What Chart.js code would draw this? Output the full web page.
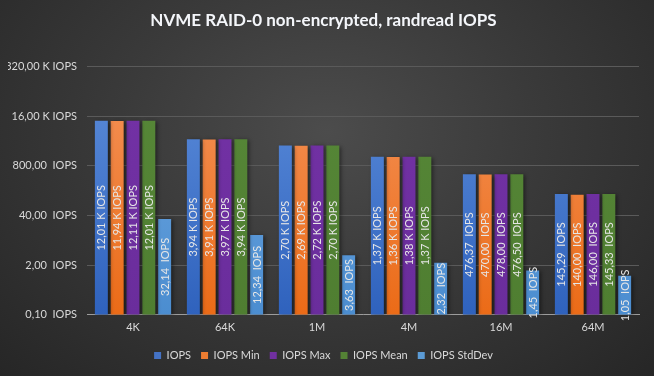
<!DOCTYPE html>
<html>
<head>
<meta charset="utf-8">
<script src="https://cdn.jsdelivr.net/npm/chart.js@4/dist/chart.umd.min.js"></script>
<style>
  html, body { margin: 0; padding: 0; }
  body {
    width: 654px; height: 376px; overflow: hidden;
    background: radial-gradient(ellipse at 50% 35%, #4c4c4c 0%, #3a3a3a 45%, #262626 100%);
  }
  #wrap { width: 654px; height: 376px; }
</style>
</head>
<body>
<div id="wrap"><canvas id="iopsChart" width="654" height="376"></canvas></div>
<script>
// 區塊大小
const categories = ['4K', '64K', '1M', '4M', '16M', '64M'];

// IOPS 數值
const iops       = [12010, 3940, 2700, 1370, 476.37, 145.29];
const iopsMin    = [11940, 3910, 2690, 1360, 470.00, 140.00];
const iopsMax    = [12110, 3970, 2720, 1380, 478.00, 146.00];
const iopsMean   = [12010, 3940, 2700, 1370, 476.50, 145.33];
const iopsStdDev = [32.14, 12.34, 3.63, 2.32, 1.45, 1.05];

// 對數座標刻度 (以 20 為底)
const yTicks = [0.1, 2, 40, 800, 16000, 320000];

const seriesNames = ['IOPS', 'IOPS Min', 'IOPS Max', 'IOPS Mean', 'IOPS StdDev'];

function fmt(v) {
    if (v >= 1000) return (v / 1000).toFixed(2).replace('.', ',') + ' K IOPS';
    return v.toFixed(2).replace('.', ',') + '  IOPS';
}

// 漸層填色
function grad(top, bottom) {
    return function(context) {
        const chart = context.chart;
        const area = chart.chartArea;
        if (!area) return top;
        const g = chart.ctx.createLinearGradient(0, area.top, 0, area.bottom);
        g.addColorStop(0, top);
        g.addColorStop(1, bottom);
        return g;
    };
}

// 柱狀陰影
const shadowPlugin = {
    id: 'barShadow',
    beforeDatasetsDraw(chart) {
        const ctx = chart.ctx;
        ctx.save();
        ctx.shadowColor = 'rgba(0,0,0,0.45)';
        ctx.shadowBlur = 4;
        ctx.shadowOffsetX = 2;
        ctx.shadowOffsetY = 1;
    },
    afterDatasetsDraw(chart) {
        chart.ctx.restore();
    }
};

// 直式資料標籤
const labelPlugin = {
    id: 'barLabels',
    afterDatasetsDraw(chart) {
        const ctx = chart.ctx;
        ctx.save();
        ctx.font = '11px Lato, "Open Sans", sans-serif';
        ctx.fillStyle = '#e6e6e6';
        ctx.textAlign = 'center';
        ctx.textBaseline = 'middle';
        chart.data.datasets.forEach(function(ds, i) {
            const meta = chart.getDatasetMeta(i);
            meta.data.forEach(function(bar, j) {
                const cy = (bar.y + bar.base) / 2;
                ctx.save();
                ctx.translate(bar.x, cy);
                ctx.rotate(-Math.PI / 2);
                ctx.fillText(fmt(ds.data[j]), 0, 0.5);
                ctx.restore();
            });
        });
        ctx.restore();
    }
};

const colors = [
    grad('#5d8edb', '#2f62bd'),
    grad('#f4945b', '#eb6b17'),
    grad('#7432a6', '#6a2d9c'),
    grad('#578838', '#4f7e31'),
    grad('#72aae2', '#4b8dd0')
];
const legendColors = ['#4472c4', '#ed7d31', '#7030a0', '#548235', '#5b9bd5'];

const seriesData = [iops, iopsMin, iopsMax, iopsMean, iopsStdDev];

const chart = new Chart(document.getElementById('iopsChart').getContext('2d'), {
    type: 'bar',
    data: {
        labels: categories,
        datasets: seriesData.map(function(d, i) {
            return {
                label: seriesNames[i],
                data: d,
                backgroundColor: colors[i],
                borderWidth: 0,
                categoryPercentage: 0.86,
                barPercentage: 0.82
            };
        })
    },
    options: {
        responsive: false,
        animation: false,
        devicePixelRatio: 1,
        layout: { padding: { left: 8, right: 15, top: 6, bottom: 5 } },
        plugins: {
            title: {
                display: true,
                text: 'NVME RAID-0 non-encrypted, randread IOPS',
                color: '#f4f6fa',
                font: { family: 'Lato, "Open Sans", sans-serif', size: 17, weight: 'bold' },
                padding: { top: 4, bottom: 36 }
            },
            legend: {
                position: 'bottom',
                labels: {
                    color: '#d9d9d9',
                    font: { family: 'Lato, "Open Sans", sans-serif', size: 11 },
                    boxWidth: 7,
                    boxHeight: 7,
                    padding: 10,
                    generateLabels: function(c) {
                        return seriesNames.map(function(n, i) {
                            return {
                                text: n,
                                fillStyle: legendColors[i],
                                strokeStyle: legendColors[i],
                                lineWidth: 0,
                                fontColor: '#d9d9d9',
                                datasetIndex: i
                            };
                        });
                    }
                }
            },
            tooltip: { enabled: false }
        },
        scales: {
            x: {
                grid: { display: false, drawTicks: false },
                border: { display: true, color: '#9c9c9c', width: 1 },
                ticks: {
                    color: '#d9d9d9',
                    font: { family: 'Lato, "Open Sans", sans-serif', size: 11 },
                    padding: 6
                }
            },
            y: {
                type: 'logarithmic',
                min: 0.1,
                max: 320000,
                afterBuildTicks: function(scale) {
                    scale.ticks = yTicks.map(function(v) { return { value: v }; });
                },
                afterFit: function(scale) {
                    scale.width = 79;
                },
                grid: { color: '#5a5a5a', drawTicks: false },
                border: { display: false },
                ticks: {
                    color: '#d9d9d9',
                    font: { family: 'Lato, "Open Sans", sans-serif', size: 11 },
                    padding: 10,
                    callback: function(v) { return fmt(v); }
                }
            }
        }
    },
    plugins: [shadowPlugin, labelPlugin]
});
</script>
</body>
</html>
